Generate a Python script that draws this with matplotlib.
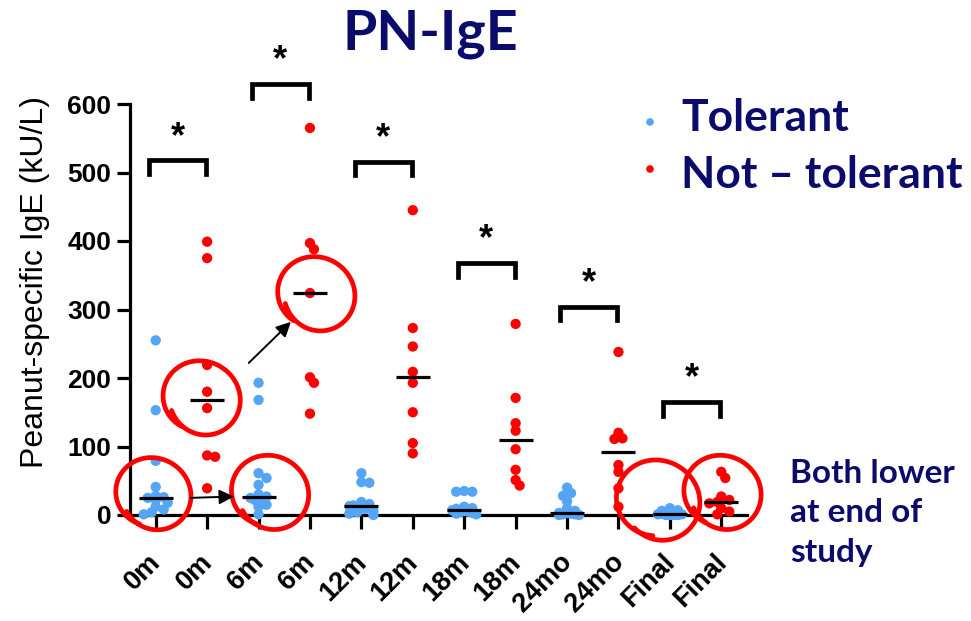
import numpy as np
import matplotlib
matplotlib.use("Agg")
import matplotlib.pyplot as plt
from matplotlib.transforms import ScaledTranslation

# group labels along x (tolerant / not-tolerant alternate)
labels = ["0m", "0m", "6m", "6m", "12m", "12m", "18m", "18m", "24mo", "24mo", "Final", "Final"]

# tolerant (blue) values per time point, kU/L
tol_0m = [255, 153, 79, 41, 28, 26, 25, 22, 18, 12, 8, 4, 1]
tol_6m = [193, 168, 61, 54, 44, 30, 27, 25, 24, 22, 15, 12, 1]
tol_12m = [61, 48, 47, 19, 16, 14, 13, 12, 9, 6, 4, 2, 0]
tol_18m = [35, 34, 34, 12, 10, 9, 7, 6, 5, 4, 3, 2, 1]
tol_24mo = [40, 32, 28, 20, 10, 6, 3, 3, 2, 1, 1, 0, 0]
tol_final = [10, 7, 6, 4, 2, 1, 1, 0, 0, 0, 0]

# not-tolerant (red) values per time point
nt_0m = [399, 375, 219, 180, 156, 87, 85, 39]
nt_6m = [565, 397, 388, 324, 201, 193, 148]
nt_12m = [445, 273, 246, 209, 193, 150, 105, 90]
nt_18m = [279, 171, 134, 123, 96, 66, 51, 43]
nt_24mo = [238, 120, 112, 111, 73, 63, 39, 12]
nt_final = [63, 54, 27, 22, 19, 17, 10, 5, 1]

# significance brackets: height of bracket per pair
bracket_y = [518, 629, 516, 368, 304, 165]

groups = [tol_0m, nt_0m, tol_6m, nt_6m, tol_12m, nt_12m,
          tol_18m, nt_18m, tol_24mo, nt_24mo, tol_final, nt_final]

BLUE = "#55a5f7"
RED = "#ff0000"
NAVY = "#0b0b6b"
TICK_FONT = "Liberation Sans"
SLIDE_FONT = "Lato"

fig = plt.figure(figsize=(9.71, 6.21), dpi=100)
ax = fig.add_axes([130 / 971, 1 - 515 / 621, (747 - 130) / 971, (515 - 104) / 621])
ax.set_xlim(-0.5, 11.5)
ax.set_ylim(0, 600)

# pixels per data unit, for the beeswarm and the hand-drawn loops
p0 = ax.transData.transform((0, 0))
p1 = ax.transData.transform((1, 100))
sx = p1[0] - p0[0]
sy = (p1[1] - p0[1]) / 100.0


def swarm_offsets(vals, gap_px=6.5, step_px=4.0, max_px=15.0):
    # loose beeswarm: points may overlap a bit, spread is kept narrow
    placed = []
    offs = []
    for v in vals:
        y = v * sy
        cands = [0.0]
        k = 1
        while k * step_px <= max_px:
            cands += [k * step_px, -k * step_px]
            k += 1
        best = None
        for c in cands:
            if all((c - px) ** 2 + (y - py) ** 2 >= gap_px ** 2 for px, py in placed):
                best = c
                break
        if best is None:
            best = cands[len(placed) % len(cands)]
        placed.append((best, y))
        offs.append(best / sx)
    return np.array(offs)


for i, vals in enumerate(groups):
    color = BLUE if i % 2 == 0 else RED
    offs = swarm_offsets(vals)
    ax.scatter(i + offs, vals, s=55, color=color, edgecolors="none", zorder=3, clip_on=False)
    med = np.median(vals)
    ax.plot([i - 0.33, i + 0.33], [med, med], color="black", lw=2.3, zorder=4,
            solid_capstyle="butt", clip_on=False)

# brackets with stars
for k, by in enumerate(bracket_y):
    x0 = 2 * k - 0.13
    x1 = 2 * k + 0.98
    ax.plot([x0, x0, x1, x1], [by - 20, by, by, by - 20], color="black", lw=3.4,
            solid_joinstyle="miter", clip_on=False, zorder=5)
    ax.text((x0 + x1) / 2, by + 8, "*", ha="center", va="bottom", fontsize=26,
            fontweight="bold", fontfamily=TICK_FONT, clip_on=False)


def loop(cx, cy, r_px, start=200):
    # open hand-drawn style loop around a point (pixel radius)
    t = np.radians(np.linspace(start, start + 390, 200))
    rr = r_px * (1 + 0.08 * np.sin(t * 1.5))
    xs = cx + rr * np.cos(t) / sx
    ys = cy + rr * np.sin(t) / sy
    ax.plot(xs, ys, color=RED, lw=3.4, clip_on=False, zorder=6, solid_capstyle="round")


meds = [np.median(g) for g in groups]
loop(0 - 0.02, meds[0] + 9, 36, start=215)
loop(1 - 0.08, meds[1] + 6, 37, start=205)
loop(2 + 0.25, meds[2] + 9, 37, start=215)
loop(3 + 0.15, meds[3] + 2, 37, start=200)
loop(10 - 0.2, meds[10] + 24, 40, start=230)
loop(11 + 0.05, meds[11] + 17, 37, start=210)

arrow = dict(arrowstyle="-|>", lw=1.4, color="black", mutation_scale=22, shrinkA=0, shrinkB=0)
ax.annotate("", xy=(1.52, meds[2]), xytext=(0.68, meds[0]), arrowprops=arrow, zorder=7)
ax.annotate("", xy=(2.63, 282), xytext=(1.81, 222), arrowprops=arrow, zorder=7)

# axes styling
for s in ["top", "right"]:
    ax.spines[s].set_visible(False)
for s in ["left", "bottom"]:
    ax.spines[s].set_linewidth(2.3)
ax.set_yticks([0, 100, 200, 300, 400, 500, 600])
ax.set_xticks(range(len(labels)))
ax.tick_params(axis="y", direction="out", length=9.5, width=2.3, pad=4)
ax.tick_params(axis="x", direction="out", length=10, width=2.3, labelbottom=False)
ax.set_yticklabels([str(v) for v in ax.get_yticks().astype(int)], fontfamily=TICK_FONT,
                   fontweight="bold", fontsize=19)
# rotated category labels hanging below each tick
lab_shift = ax.transData + ScaledTranslation(-0.08, -0.34, fig.dpi_scale_trans)
for i, lab in enumerate(labels):
    ax.text(i, 0, lab, transform=lab_shift, rotation=45, ha="right", va="top",
            rotation_mode="anchor", fontfamily=TICK_FONT, fontweight="bold", fontsize=19.5,
            clip_on=False)
ax.set_ylabel("Peanut-specific IgE (kU/L)", fontfamily=TICK_FONT, fontsize=23)
ax.yaxis.set_label_coords(-0.130, 0.567)

# title, legend and side note in slide style
fig.text(430 / 971, 1 - 34 / 621, "PN-IgE", ha="center", va="center", color=NAVY,
         fontsize=40, fontweight="bold", fontfamily=SLIDE_FONT)
fig.text(681 / 971, 1 - 118 / 621, "Tolerant", ha="left", va="center", color=NAVY,
         fontsize=32, fontweight="bold", fontfamily=SLIDE_FONT)
fig.text(681 / 971, 1 - 175 / 621, "Not \u2013 tolerant", ha="left", va="center", color=NAVY,
         fontsize=32, fontweight="bold", fontfamily=SLIDE_FONT)
lax = fig.add_axes([0, 0, 1, 1], facecolor="none")
lax.set_xlim(0, 971)
lax.set_ylim(621, 0)
lax.axis("off")
lax.scatter([650, 650], [122, 169], s=30, color=[BLUE, RED], edgecolors="none")
fig.text(790 / 971, 1 - 513 / 621, "Both lower\nat end of\nstudy", ha="left", va="center",
         color=NAVY, fontsize=24, fontweight="bold", fontfamily=SLIDE_FONT, linespacing=1.45)

fig.savefig("out.png", dpi=100)
